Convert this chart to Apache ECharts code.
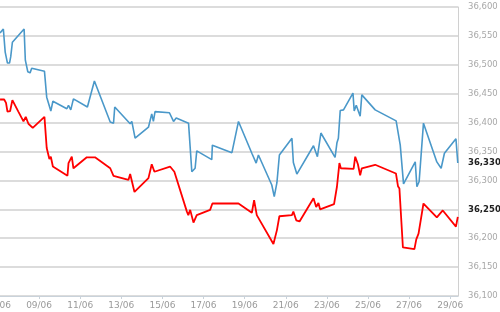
<!DOCTYPE html>
<html><head><meta charset="utf-8">
<script src="https://cdn.jsdelivr.net/npm/echarts@6/dist/echarts.min.js"></script>
<style>html,body{margin:0;padding:0;background:#fff}#c{width:500px;height:312px}</style>
</head><body><div id="c"></div>
<script>
// x = day of June (fractional), y = price
const blueDays = [7.10,7.26,7.35,7.46,7.56,7.62,7.70,8.27,8.33,8.45,8.56,8.64,9.26,9.37,9.57,9.67,10.35,10.43,10.54,10.67,11.35,11.69,12.46,12.62,12.68,13.43,13.51,13.67,14.32,14.48,14.56,14.64,15.34,15.54,15.67,16.27,16.43,16.59,16.67,17.40,17.43,18.38,18.70,19.35,19.43,19.56,19.67,20.32,20.44,20.57,20.69,21.30,21.37,21.54,22.35,22.54,22.71,23.40,23.49,23.56,23.65,23.81,24.27,24.33,24.43,24.62,24.70,25.35,26.37,26.57,26.73,27.30,27.38,27.49,27.70,28.35,28.56,28.72,29.28,29.37];
const blueValues = [36555,36562,36522,36503,36503,36514,36539,36562,36508,36488,36486,36494,36489,36444,36420,36437,36424,36430,36422,36441,36427,36472,36401,36399,36427,36398,36402,36373,36392,36415,36402,36419,36417,36402,36408,36399,36315,36321,36351,36336,36361,36348,36402,36347,36350,36330,36344,36292,36272,36296,36344,36373,36331,36311,36360,36341,36382,36340,36365,36373,36421,36422,36451,36420,36430,36411,36448,36422,36403,36361,36294,36332,36289,36298,36399,36332,36321,36347,36372,36330];
const redDays = [7.10,7.30,7.39,7.46,7.59,7.70,7.99,8.24,8.35,8.48,8.69,9.26,9.37,9.50,9.57,9.67,10.38,10.43,10.59,10.67,11.32,11.72,12.46,12.62,13.35,13.43,13.51,13.64,14.32,14.48,14.61,15.37,15.58,16.19,16.26,16.35,16.51,16.67,17.32,17.43,18.70,19.35,19.46,19.59,19.67,20.40,20.57,20.69,21.30,21.37,21.51,21.67,22.35,22.48,22.59,22.67,23.35,23.49,23.61,23.68,24.30,24.38,24.51,24.62,24.70,25.35,26.36,26.46,26.53,26.70,27.26,27.35,27.46,27.70,28.35,28.64,29.28,29.37];
const redValues = [36440,36440,36434,36419,36420,36439,36419,36402,36410,36398,36391,36410,36356,36337,36341,36324,36308,36330,36341,36321,36340,36340,36321,36308,36301,36311,36311,36280,36304,36328,36315,36324,36315,36246,36240,36249,36227,36240,36249,36260,36260,36244,36266,36240,36240,36190,36214,36238,36240,36246,36231,36229,36269,36254,36261,36250,36259,36289,36330,36321,36320,36341,36328,36309,36321,36327,36312,36290,36286,36184,36181,36198,36208,36260,36236,36248,36220,36237];
const yTicks = {min: 36100, max: 36600, step: 50};
const xTicks = {min: 7, max: 29.38, step: 2};
const currentLabels = [36330, 36250];

const fmtNum = v => v.toLocaleString('en-US');
const zip = (a, b) => a.map((d, i) => [d, b[i]]);
const chart = echarts.init(document.getElementById('c'), null, {renderer: 'canvas'});
const labelFont = '"DejaVu Sans", Verdana, sans-serif';
function marker(v) {
  return {
    coord: [xTicks.max, v], symbol: 'rect', symbolSize: 0,
    label: {show: true, position: 'right', distance: 10, formatter: fmtNum(v),
      color: '#222', fontWeight: 'bold', fontSize: 8.5, fontFamily: labelFont,
      backgroundColor: '#fff', padding: [1, 0, 1, 0]}
  };
}
chart.setOption({
  animation: false,
  grid: {left: -2, right: 42, top: 7, bottom: 16, containLabel: false, outerBoundsMode: 'none'},
  xAxis: {
    type: 'value', min: xTicks.min, max: xTicks.max, interval: xTicks.step,
    splitLine: {show: false},
    axisLine: {show: true, lineStyle: {color: '#c9d2da', width: 1}},
    axisTick: {show: true, length: 3, lineStyle: {color: '#c9d2da'}},
    axisLabel: {showMaxLabel: false, color: '#9a9a9a', fontSize: 9, fontFamily: labelFont, margin: 5,
      formatter: v => (Math.round(v) < 10 ? '0' : '') + Math.round(v) + '/06'}
  },
  yAxis: {
    type: 'value', position: 'right', min: yTicks.min, max: yTicks.max, interval: yTicks.step,
    splitLine: {show: true, lineStyle: {color: '#dcdcdc', width: 2}},
    axisLine: {show: true, lineStyle: {color: '#d0d0d0', width: 1}},
    axisTick: {show: false},
    axisLabel: {color: '#a8a8a8', fontSize: 8.5, fontFamily: labelFont, margin: 10, formatter: v => fmtNum(v)}
  },
  series: [
    {type: 'line', data: zip(blueDays, blueValues), showSymbol: false, symbol: 'none',
      lineStyle: {color: '#4a98c9', width: 1.6}, itemStyle: {color: '#4a98c9'},
      markPoint: {silent: true, data: [marker(currentLabels[0])]}},
    {type: 'line', data: zip(redDays, redValues), showSymbol: false, symbol: 'none',
      lineStyle: {color: '#ff0000', width: 1.8}, itemStyle: {color: '#ff0000'},
      markPoint: {silent: true, data: [marker(currentLabels[1])]}}
  ]
});
</script></body></html>
